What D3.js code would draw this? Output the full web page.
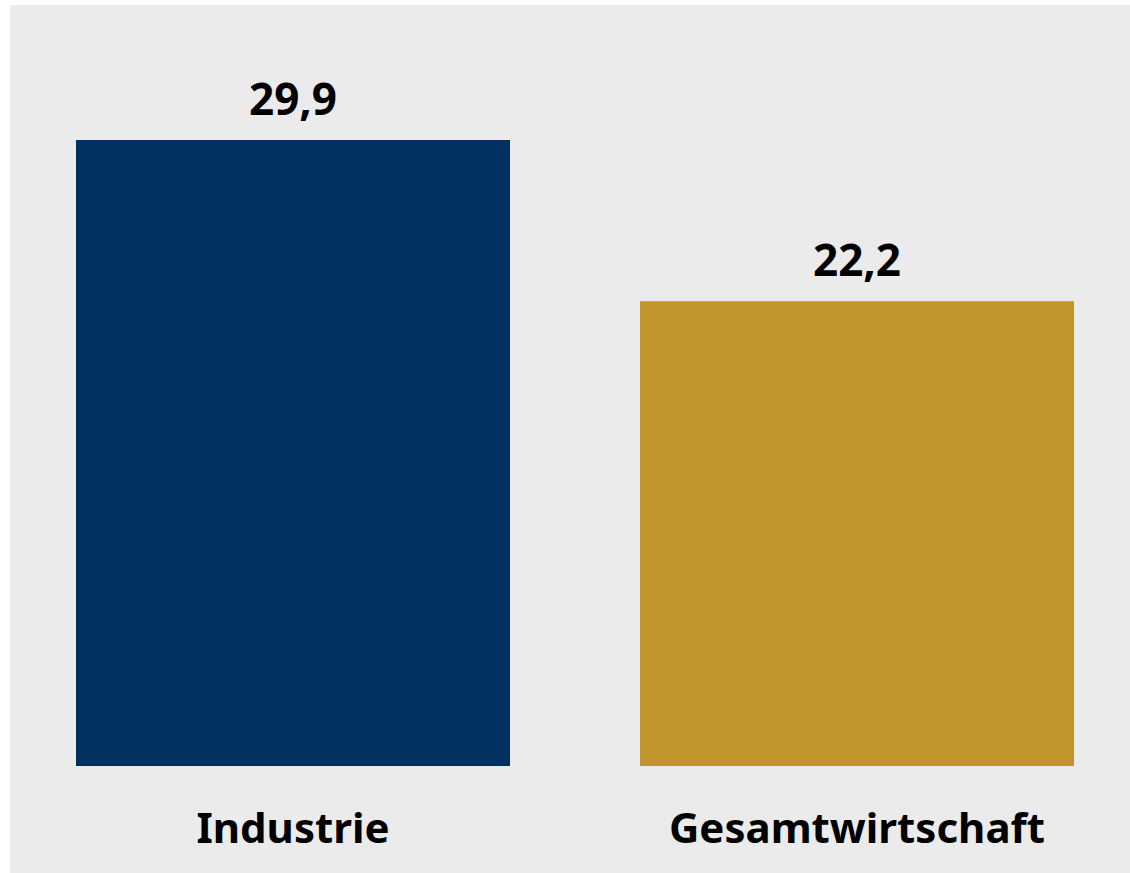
<!DOCTYPE html>
<html>
<head>
<meta charset="utf-8">
<script src="https://cdn.jsdelivr.net/npm/d3@7"></script>
<style>
  body { margin: 0; background: #ffffff; }
  text { font-family: "Noto Sans", "Open Sans", sans-serif; font-weight: 700; fill: #000; }
</style>
</head>
<body>
<div id="chart"></div>
<script>
// Chart data
var categories = ["Industrie", "Gesamtwirtschaft"];
var values = [29.9, 22.2];
var colors = ["#00305f", "#c0962c"];

var svgWidth = 1130;
var svgHeight = 873;

var svg = d3.select("#chart")
  .append("svg")
  .attr("width", svgWidth)
  .attr("height", svgHeight);

// grey panel
svg.append("rect")
  .attr("x", 10)
  .attr("y", 5)
  .attr("width", svgWidth - 10)
  .attr("height", svgHeight - 5)
  .attr("fill", "#ebebeb");

var margin = { left: 76, right: 56, top: 140, baseline: 766 };

var x = d3.scaleBand()
  .domain(categories)
  .range([margin.left, svgWidth - margin.right])
  .paddingInner(0.2305)
  .paddingOuter(0);

var y = d3.scaleLinear()
  .domain([0, 29.9])
  .range([margin.baseline, margin.top]);

var chartGroup = svg.append("g");

chartGroup.selectAll("rect.bar")
  .data(values)
  .enter()
  .append("rect")
  .attr("class", "bar")
  .attr("x", (d, i) => x(categories[i]))
  .attr("y", d => y(d))
  .attr("width", x.bandwidth())
  .attr("height", d => y(0) - y(d))
  .attr("fill", (d, i) => colors[i]);

// value labels
chartGroup.selectAll("text.value")
  .data(values)
  .enter()
  .append("text")
  .attr("class", "value")
  .attr("text-anchor", "middle")
  .attr("x", (d, i) => x(categories[i]) + x.bandwidth() / 2)
  .attr("y", d => y(d) - 25)
  .style("font-size", "44px")
  .text(d => d3.format(".1f")(d).replace(".", ","));

// category axis
var axis = d3.axisBottom(x).tickSize(0).tickPadding(0);
var axisG = svg.append("g")
  .attr("transform", `translate(0, ${margin.baseline})`)
  .call(axis);
axisG.select(".domain").remove();
axisG.selectAll("text")
  .attr("dy", null)
  .attr("y", 77)
  .attr("fill", "#000")
  .style("font-size", "42px")
  .style("font-family", "'Noto Sans', sans-serif");
</script>
</body>
</html>
